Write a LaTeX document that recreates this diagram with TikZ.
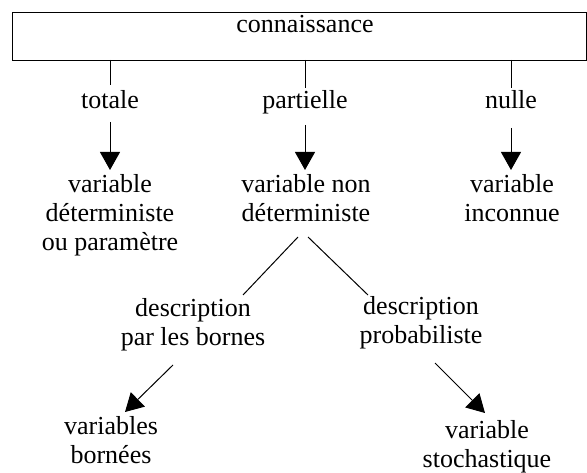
\documentclass[tikz,border=0pt]{standalone}
\usepackage{fontspec}
\setmainfont{Liberation Serif}
\usetikzlibrary{arrows.meta}
\begin{document}
\begin{tikzpicture}[x=1pt,y=-1pt,
  lbl/.style={inner sep=0pt,align=center,anchor=base,font=\fontsize{26}{29}\selectfont},
  conn/.style={line width=1pt},
  arr/.style={line width=1pt,-{Triangle[width=20pt,length=18pt]}}]
\useasboundingbox (0,0) rectangle (587,473);
\node[draw,line width=1.2pt,minimum width=574pt,minimum height=48pt,inner sep=0pt,anchor=north west] (box) at (12,12) {};
\node[lbl] (con) at (305,33) {connaissance};
\node[lbl] (tot) at (110,109) {totale};
\node[lbl] (par) at (305,109) {partielle};
\node[lbl] (nul) at (511,109) {nulle};
\node[lbl] (vd) at (110,251) {variable\\déterministe\\ou paramètre};
\node[lbl] (vnd) at (306,222) {variable non\\déterministe};
\node[lbl] (vi) at (512,222) {variable\\inconnue};
\node[lbl] (dpb) at (193,346) {description\\par les bornes};
\node[lbl] (dp) at (421,344) {description\\probabiliste};
\node[lbl] (vb) at (111,463) {variables\\bornées};
\node[lbl] (vs) at (487,467) {variable\\stochastique};
\coordinate (b1) at (110,60);  \coordinate (t1) at (110,85);
\coordinate (b2) at (305,60);  \coordinate (t2) at (305,88);
\coordinate (b3) at (511,60);  \coordinate (t3) at (511,88);
\coordinate (a1) at (110,122); \coordinate (h1) at (110,170);
\coordinate (a2) at (305,125); \coordinate (h2) at (305,170);
\coordinate (a3) at (511,128); \coordinate (h3) at (511,170);
\coordinate (l1) at (298,237); \coordinate (l2) at (243,295);
\coordinate (r1) at (308,237); \coordinate (r2) at (368,295);
\coordinate (p1) at (173,365); \coordinate (p2) at (125,412);
\coordinate (q1) at (435,363); \coordinate (q2) at (485,413);
\draw[conn] (b1) -- (t1);
\draw[conn] (b2) -- (t2);
\draw[conn] (b3) -- (t3);
\draw[arr] (a1) -- (h1);
\draw[arr] (a2) -- (h2);
\draw[arr] (a3) -- (h3);
\draw[conn] (l1) -- (l2);
\draw[conn] (r1) -- (r2);
\draw[arr] (p1) -- (p2);
\draw[arr] (q1) -- (q2);
\end{tikzpicture}
\end{document}
